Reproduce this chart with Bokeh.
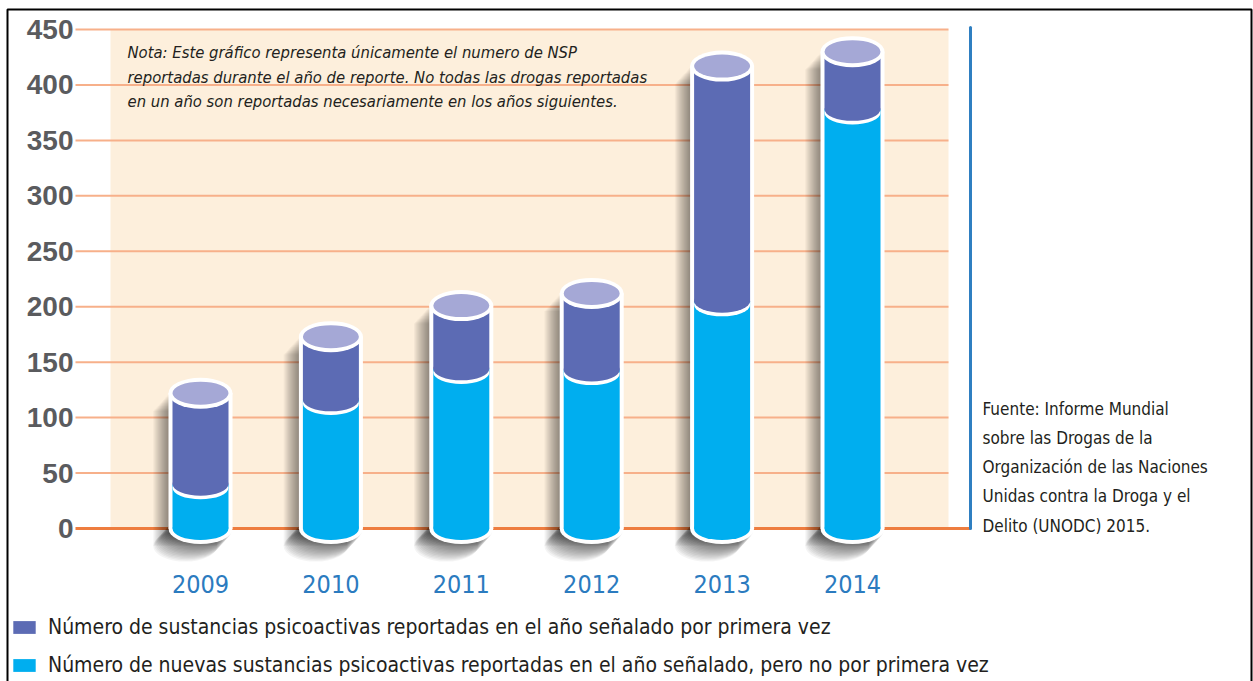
from bokeh.plotting import figure
from bokeh.models import Range1d, Legend, LegendItem, BoxAnnotation
from bokeh.core.properties import value
from bokeh.embed import file_html
from bokeh.resources import INLINE

# ---------------- data ----------------
years = [2009, 2010, 2011, 2012, 2013, 2014]
first_time = [82, 57, 57, 69, 212, 52]        # purple: reported for the first time
not_first = [40, 116, 144, 143, 205, 378]     # cyan: reported, but not for the first time
y_ticks = [0, 50, 100, 150, 200, 250, 300, 350, 400, 450]
year_labels = ["2009", "2010", "2011", "2012", "2013", "2014"]
legend_labels = [
    "Número de sustancias psicoactivas reportadas en el año señalado por primera vez",
    "Número de nuevas sustancias psicoactivas reportadas en el año señalado, pero no por primera vez",
]
note_lines = [
    "Nota: Este gráfico representa únicamente el numero de NSP",
    "reportadas durante el año de reporte. No todas las drogas reportadas",
    "en un año son reportadas necesariamente en los años siguientes.",
]
source_lines = [
    "Fuente: Informe Mundial",
    "sobre las Drogas de la",
    "Organización de las Naciones",
    "Unidas contra la Droga y el",
    "Delito (UNODC) 2015.",
]

# ---------------- geometry helpers (pixels -> data) ----------------
W, H = 1253, 681
PXX = 130.4            # px per year
PXY = 499.0 / 450.0    # px per unit


def dx(px):
    return years[0] + (px - 200) / PXX


def dy(py):
    return (528 - py) / PXY


NARROW = "DejaVu Sans Condensed"

p = figure(width=W, height=H, x_range=Range1d(dx(0), dx(W)), y_range=Range1d(dy(H), dy(0)),
           output_backend="svg", toolbar_location=None,
           min_border_left=0, min_border_right=0, min_border_top=0, min_border_bottom=0)
p.axis.visible = False
p.grid.visible = False
p.outline_line_color = None
p.background_fill_color = "white"
p.border_fill_color = "white"

# panel background
p.quad(left=dx(110), right=dx(948), bottom=0, top=y_ticks[-1], fill_color="#FDEFDC", line_color=None)
# grid lines
gt = y_ticks[1:]
p.segment(x0=[dx(75)] * len(gt), y0=gt, x1=[dx(948)] * len(gt), y1=gt, line_color="#F7B08A", line_width=2)
p.segment(x0=[dx(75)], y0=[0], x1=[dx(970)], y1=[0], line_color="#EE7D3F", line_width=3)
p.segment(x0=[dx(970)], y0=[0], x1=[dx(970)], y1=[dy(27)], line_color="#2F7FC1", line_width=3, line_cap="round")

# y tick labels
p.text(x=[dx(73)] * len(y_ticks), y=y_ticks, text=[str(t) for t in y_ticks],
       text_font=value("Liberation Sans"), text_font_style="bold", text_font_size="28px",
       text_color="#5A5B5E", text_align="right", text_baseline="middle")

# ---------------- cylinders ----------------
totals = [a + b for a, b in zip(first_time, not_first)]
w = 56 / PXX
lwx = 4 / PXX
h = 23 / PXY
lwy = 4 / PXY
n = len(years)

# soft shadow (down-left)
for i in range(14):
    ox = -(1 + 1.1 * i) / PXX
    oy = -(2 + 1.2 * i) / PXY
    sx = [x + ox for x in years]
    p.quad(left=[x - w / 2 - lwx for x in sx], right=[x + w / 2 + lwx for x in sx],
           bottom=[oy] * n, top=[t + oy for t in totals], fill_color="black", fill_alpha=0.035, line_color=None)
    p.ellipse(x=sx, y=[oy] * n, width=w + 2 * lwx, height=h + 2 * lwy, fill_color="black",
              fill_alpha=0.045, line_color=None)

# white silhouette
p.quad(left=[x - w / 2 - lwx for x in years], right=[x + w / 2 + lwx for x in years],
       bottom=[0] * n, top=totals, fill_color="white", line_color=None)
p.ellipse(x=years, y=[0] * n, width=w + 2 * lwx, height=h + 2 * lwy, fill_color="white", line_color=None)

# cyan part
p.ellipse(x=years, y=[0] * n, width=w, height=h, fill_color="#00AEEF", line_color=None)
cyan = p.quad(left=[x - w / 2 for x in years], right=[x + w / 2 for x in years],
              bottom=[0] * n, top=not_first, fill_color="#00AEEF", line_color=None)
# white crescent at boundary
p.ellipse(x=years, y=[b - 0.9 * lwy for b in not_first], width=w, height=h, fill_color="white", line_color=None)
# purple part
p.ellipse(x=years, y=not_first, width=w, height=h, fill_color="#5C6BB4", line_color=None)
purple = p.quad(left=[x - w / 2 for x in years], right=[x + w / 2 for x in years],
                bottom=not_first, top=totals, fill_color="#5C6BB4", line_color=None)
# top
p.ellipse(x=years, y=totals, width=w + 2 * lwx, height=h + 2 * lwy, fill_color="white", line_color=None)
p.ellipse(x=years, y=totals, width=w, height=h, fill_color="#A5A8D6", line_color=None)

# year labels
p.text(x=years, y=[dy(583)] * n, text=year_labels,
       text_font=value(NARROW), text_font_size="25px", text_color="#2B7BBF",
       text_align="center", text_baseline="middle")

# ---------------- texts ----------------
p.text(x=[dx(127)] * 3, y=[dy(52 + 24.5 * i) for i in range(3)], text=note_lines,
       text_font=value(NARROW), text_font_style="italic", text_font_size="16.5px",
       text_color="#231F20", text_baseline="middle", text_align="left")
p.text(x=[dx(982)] * 5, y=[dy(408 + 29.3 * i) for i in range(5)], text=source_lines,
       text_font=value(NARROW), text_font_size="17px",
       text_color="#231F20", text_baseline="middle", text_align="left")

legend = Legend(items=[LegendItem(label=legend_labels[0], renderers=[purple]),
                       LegendItem(label=legend_labels[1], renderers=[cyan])],
                location=(10, 1), orientation="vertical",
                background_fill_alpha=0, border_line_alpha=0, padding=0, margin=0,
                label_text_font=NARROW, label_text_font_size="21px", label_text_color="#231F20",
                glyph_width=28, glyph_height=16, label_standoff=10, label_height=30, spacing=8)
p.add_layout(legend, "center")

frame = BoxAnnotation(left=7, right=1251, top=9, bottom=H + 20,
                      left_units="canvas", right_units="canvas", top_units="canvas", bottom_units="canvas",
                      fill_alpha=0, line_color="black", line_alpha=1.0, line_width=2, level="overlay")
p.add_layout(frame)

open("out.html", "w").write(file_html(p, INLINE))
